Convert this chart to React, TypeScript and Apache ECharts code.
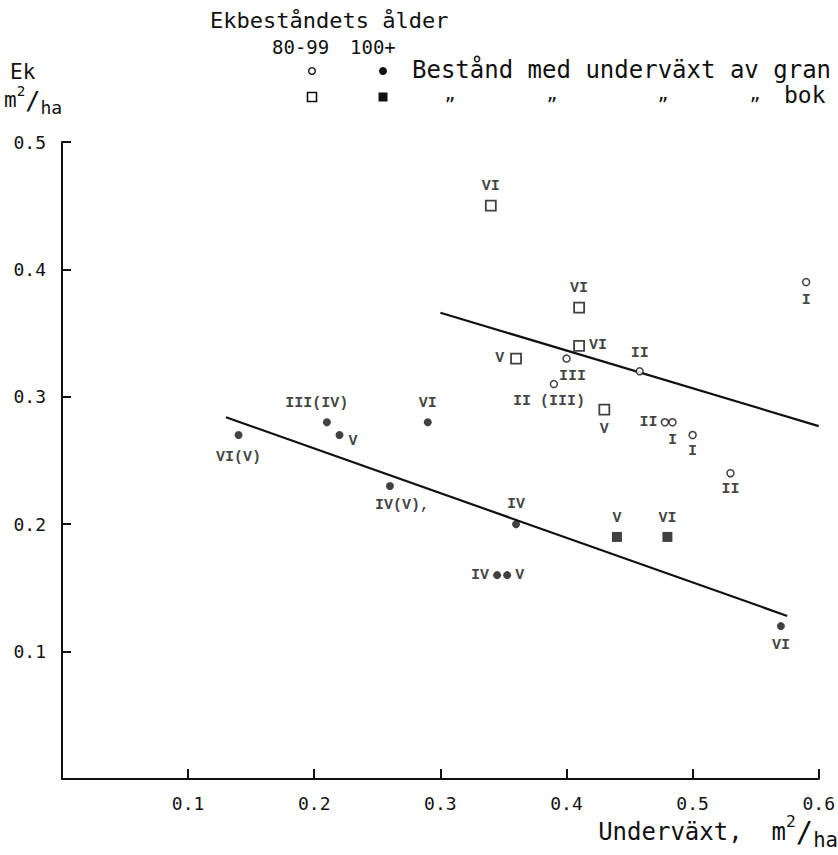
import React, { useEffect, useRef } from "react";
import * as echarts from "echarts";

// Oak stands 80-99 years, undergrowth of spruce (gran) — open circles
const gran8099X = [0.4, 0.39, 0.458, 0.478, 0.484, 0.5, 0.53, 0.59];
const gran8099Y = [0.33, 0.31, 0.32, 0.28, 0.28, 0.27, 0.24, 0.39];
const gran8099Labels = ["III", "II (III)", "II", "II", "I", "I", "II", "I"];

// Oak stands 80-99 years, undergrowth of beech (bok) — open squares
const bok8099X = [0.34, 0.41, 0.41, 0.36, 0.43];
const bok8099Y = [0.45, 0.37, 0.34, 0.33, 0.29];
const bok8099Labels = ["VI", "VI", "VI", "V", "V"];

// Oak stands 100+ years, undergrowth of spruce — filled circles
const gran100X = [0.14, 0.21, 0.22, 0.29, 0.26, 0.36, 0.345, 0.353, 0.57];
const gran100Y = [0.27, 0.28, 0.27, 0.28, 0.23, 0.2, 0.16, 0.16, 0.12];
const gran100Labels = ["VI(V)", "III(IV)", "V", "VI", "IV(V),", "IV", "IV", "V", "VI"];

// Oak stands 100+ years, undergrowth of beech — filled squares
const bok100X = [0.44, 0.48];
const bok100Y = [0.19, 0.19];
const bok100Labels = ["V", "VI"];

// Regression lines
const upperLineX = [0.3, 0.6];
const upperLineY = [0.366, 0.277];
const lowerLineX = [0.13, 0.575];
const lowerLineY = [0.284, 0.128];

// Axis ranges
const xMax = 0.6;
const yMax = 0.5;
const tickStep = 0.1;

// Texts
const legendTitle = "Ekbeståndets ålder";
const ageYoung = "80-99";
const ageOld = "100+";
const legendGran = "Bestånd med underväxt av gran";
const legendBok = "bok";
const yTitle = "Ek";
const xTitle = "Underväxt,";

const PLOT_FONT = '"DejaVu Sans Mono", monospace';
const ROMAN_FONT = '"Liberation Mono", "Courier New", monospace';
const INK = "#111";

function unitRich(F: number) {
  return {
    s: { fontSize: 0.68 * F, fontFamily: PLOT_FONT, fill: INK, verticalAlign: "top" },
    l: { fontSize: 1.2 * F, fontFamily: PLOT_FONT, fill: INK, verticalAlign: "middle" },
    b: { fontSize: 0.86 * F, fontFamily: PLOT_FONT, fill: INK, verticalAlign: "bottom" },
  };
}

function txt(text: string, x: number, y: number, size: number, align = "left") {
  return {
    type: "text",
    x,
    y,
    style: { text, fontSize: size, fontFamily: PLOT_FONT, fill: INK, verticalAlign: "middle", align },
  };
}

function unitText(prefix: string, x: number, y: number, F: number, align = "left") {
  return {
    type: "text",
    x,
    y,
    style: {
      text: prefix + "m{s|2}{l|/}{b|ha}",
      fontSize: F,
      fontFamily: PLOT_FONT,
      fill: INK,
      lineHeight: 1.55 * F,
      verticalAlign: "middle",
      align,
      rich: unitRich(F),
    },
  };
}

function points(xs: number[], ys: number[], labels: string[], places: any[]) {
  return xs.map((x, i) => {
    const p = places[i];
    return {
      value: [x, ys[i]],
      name: labels[i],
      label: { position: p[0], distance: p[1], offset: p[2] || [0, 0] },
    };
  });
}

export default function App() {
  const ref = useRef<HTMLDivElement>(null);

  useEffect(() => {
    if (!ref.current) return;
    const chart = echarts.init(ref.current, undefined, { renderer: "svg" });

    const gran8099Place = [
      ["bottom", 6, [6, 0]],
      ["bottom", 6, [-5, 0]],
      ["top", 6],
      ["left", 3],
      ["bottom", 6],
      ["bottom", 5],
      ["bottom", 5],
      ["bottom", 7],
    ];
    const bok8099Place = [
      ["top", 6],
      ["top", 6],
      ["right", 4],
      ["left", 6],
      ["bottom", 7],
    ];
    const gran100Place = [
      ["bottom", 11],
      ["top", 7, [-10, 0]],
      ["right", 5, [0, 6]],
      ["top", 7],
      ["bottom", 8, [12, 0]],
      ["top", 8],
      ["left", 4],
      ["right", 4],
      ["bottom", 8],
    ];
    const bok100Place = [
      ["top", 6],
      ["top", 6],
    ];

    const labelBase = {
      show: true,
      formatter: "{b}",
      fontFamily: ROMAN_FONT,
      fontWeight: "bold",
      fontSize: 15,
      color: INK,
    };

    const axisLabelFmt = (v: number) => (Math.abs(v) < 1e-9 ? "" : v.toFixed(1));

    chart.setOption({
      animation: false,
      backgroundColor: "#fff",
      grid: { left: 62, right: 17, top: 142, bottom: 76, containLabel: false },
      xAxis: {
        type: "value",
        min: 0,
        max: xMax,
        interval: tickStep,
        axisLine: { show: true, lineStyle: { color: INK, width: 2 } },
        axisTick: { show: true, inside: true, length: 10, lineStyle: { color: INK, width: 2 } },
        axisLabel: { formatter: axisLabelFmt, fontFamily: PLOT_FONT, fontSize: 18, color: INK, margin: 15 },
        splitLine: { show: false },
      },
      yAxis: {
        type: "value",
        min: 0,
        max: yMax,
        interval: tickStep,
        axisLine: { show: true, lineStyle: { color: INK, width: 2 } },
        axisTick: { show: true, inside: true, length: 9, lineStyle: { color: INK, width: 2 } },
        axisLabel: { formatter: axisLabelFmt, fontFamily: PLOT_FONT, fontSize: 18, color: INK, margin: 16 },
        splitLine: { show: false },
      },
      series: [
        {
          type: "line",
          data: upperLineX.map((x, i) => [x, upperLineY[i]]),
          showSymbol: false,
          lineStyle: { color: INK, width: 2.2 },
          silent: true,
          z: 1,
        },
        {
          type: "line",
          data: lowerLineX.map((x, i) => [x, lowerLineY[i]]),
          showSymbol: false,
          lineStyle: { color: INK, width: 2.2 },
          silent: true,
          z: 1,
        },
        {
          type: "scatter",
          symbol: "circle",
          symbolSize: 7,
          itemStyle: { color: "#fff", borderColor: INK, borderWidth: 1.5 },
          label: labelBase,
          data: points(gran8099X, gran8099Y, gran8099Labels, gran8099Place),
          z: 3,
        },
        {
          type: "scatter",
          symbol: "rect",
          symbolSize: 10,
          itemStyle: { color: "#fff", borderColor: INK, borderWidth: 1.8 },
          label: labelBase,
          data: points(bok8099X, bok8099Y, bok8099Labels, bok8099Place),
          z: 3,
        },
        {
          type: "scatter",
          symbol: "circle",
          symbolSize: 8,
          itemStyle: { color: INK },
          label: labelBase,
          data: points(gran100X, gran100Y, gran100Labels, gran100Place),
          z: 3,
        },
        {
          type: "scatter",
          symbol: "rect",
          symbolSize: 10,
          itemStyle: { color: INK },
          label: labelBase,
          data: points(bok100X, bok100Y, bok100Labels, bok100Place),
          z: 3,
        },
      ],
      graphic: [
        txt(legendTitle, 210, 20, 22),
        txt(ageYoung, 272, 47, 19),
        txt(ageOld, 350, 47, 19),
        { type: "circle", shape: { cx: 312, cy: 71, r: 3.3 }, style: { fill: "#fff", stroke: INK, lineWidth: 1.4 } },
        { type: "circle", shape: { cx: 383, cy: 71, r: 4 }, style: { fill: INK } },
        { type: "rect", shape: { x: 307.5, y: 92.5, width: 9, height: 9 }, style: { fill: "#fff", stroke: INK, lineWidth: 1.6 } },
        { type: "rect", shape: { x: 378.5, y: 92.5, width: 9, height: 9 }, style: { fill: INK } },
        txt(legendGran, 412, 70, 24),
        txt("\u201D", 450, 104, 18, "center"),
        txt("\u201D", 552, 104, 18, "center"),
        txt("\u201D", 663, 104, 18, "center"),
        txt("\u201D", 755, 104, 18, "center"),
        txt(legendBok, 784, 95, 23),
        txt(yTitle, 10, 72, 21),
        unitText("", 4, 100, 21),
        unitText(xTitle + "  ", 838, 832, 24, "right"),
      ],
    });

    return () => chart.dispose();
  }, []);

  return <div ref={ref} style={{ width: 838, height: 855, position: "absolute", left: 0, top: 0 }} />;
}
